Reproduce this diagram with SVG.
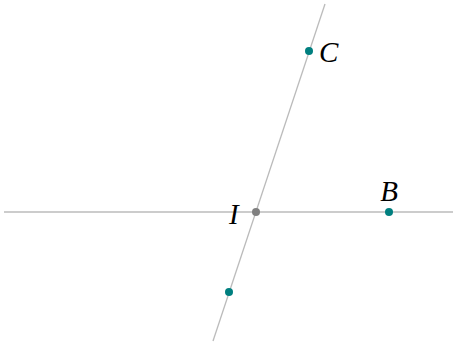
<svg xmlns="http://www.w3.org/2000/svg" width="453" height="345" viewBox="0 0 453 345">
<style>
.ln{stroke:#bbbbbb;stroke-width:1.3;fill:none}
.pt{fill:#007f7f}
.lb{font-family:"Liberation Serif","DejaVu Serif",serif;font-style:italic;font-size:29px;fill:#000}
</style>
<rect width="453" height="345" fill="#fff"/>
<g id="connectors">
<line class="ln" x1="4" y1="212" x2="453" y2="212"/>
<line class="ln" x1="325" y1="4" x2="213" y2="341"/>
</g>
<g id="I"><circle cx="256" cy="212" r="4" fill="#808080"/><text class="lb" x="229" y="224">I</text></g>
<g id="B"><circle class="pt" cx="389" cy="212" r="4"/><text class="lb" x="389" y="201" text-anchor="middle">B</text></g>
<g id="C"><circle class="pt" cx="309" cy="51" r="4"/><text class="lb" x="319" y="62">C</text></g>
<g id="P"><circle class="pt" cx="229" cy="292" r="4"/></g>
</svg>
